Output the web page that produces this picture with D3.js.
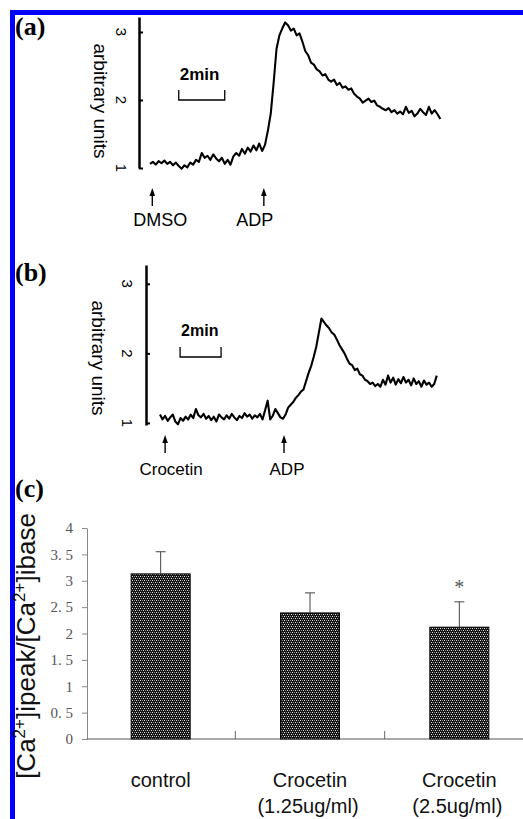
<!DOCTYPE html>
<html>
<head>
<meta charset="utf-8">
<script src="https://cdn.jsdelivr.net/npm/d3@7"></script>
<style>
    body { margin: 0; background: #fff; }
    svg { display: block; }
</style>
</head>
<body>
<div id="chart"></div>
<script>
// fluorescence traces, one reading every 0.125 min (arbitrary units)
var traceStep = 0.125;
var traceA = [1.06, 1.09, 1.05, 1.10, 1.07, 1.11, 1.06, 1.09, 1.04, 1.08,
    1.03, 0.99, 1.04, 1.01, 1.08, 1.05, 1.12, 1.09, 1.22, 1.15,
    1.18, 1.12, 1.20, 1.14, 1.10, 1.15, 1.06, 1.12, 1.05, 1.17,
    1.22, 1.18, 1.28, 1.21, 1.30, 1.24, 1.33, 1.26, 1.36, 1.25,
    1.34, 1.55, 1.80, 2.25, 2.75, 2.95, 3.05, 3.14, 3.10, 3.02,
    3.05, 2.95, 2.98, 2.86, 2.72, 2.66, 2.55, 2.52, 2.45, 2.42,
    2.36, 2.38, 2.30, 2.27, 2.30, 2.22, 2.25, 2.18, 2.20, 2.15,
    2.17, 2.09, 2.05, 2.02, 1.96, 1.99, 2.02, 1.97, 1.99, 1.92,
    1.90, 1.87, 1.85, 1.88, 1.82, 1.85, 1.80, 1.83, 1.79, 1.90,
    1.81, 1.84, 1.76, 1.80, 1.87, 1.82, 1.78, 1.90, 1.80, 1.85,
    1.79, 1.72];
var traceB = [1.12, 1.05, 1.10, 1.03, 1.08, 1.12, 1.02, 0.98, 1.07, 1.03,
    1.09, 1.05, 1.12, 1.07, 1.20, 1.11, 1.08, 1.13, 1.06, 1.10,
    1.04, 1.09, 1.02, 1.12, 1.08, 1.05, 1.11, 1.06, 1.13, 1.08,
    1.04, 1.10, 1.07, 1.14, 1.09, 1.12, 1.06, 1.11, 1.08, 1.13,
    1.05, 1.18, 1.32, 1.05, 1.10, 1.20, 1.14, 1.08, 1.06, 1.12,
    1.22, 1.26, 1.30, 1.36, 1.40, 1.45, 1.48, 1.60, 1.72, 1.82,
    1.95, 2.10, 2.30, 2.50, 2.45, 2.40, 2.36, 2.30, 2.27, 2.20,
    2.12, 2.06, 2.00, 1.92, 1.85, 1.83, 1.76, 1.78, 1.70, 1.68,
    1.62, 1.60, 1.56, 1.58, 1.53, 1.56, 1.52, 1.62, 1.55, 1.68,
    1.58, 1.65, 1.55, 1.63, 1.57, 1.66, 1.58, 1.62, 1.54, 1.64,
    1.56, 1.60, 1.52, 1.61, 1.55, 1.58, 1.52, 1.56, 1.68];
var traceTicks = [1, 2, 3];

var eventsA = ["DMSO", "ADP"];
var eventTimesA = [0.1, 4.95];
var eventsB = ["Crocetin", "ADP"];
var eventTimesB = [0.25, 6.05];

// panel (c): peak / base ratio
var groups = ["control", "Crocetin", "Crocetin"];
var groupDoses = ["", "(1.25ug/ml)", "(2.5ug/ml)"];
var ratioMeans = [3.13, 2.39, 2.12];
var ratioErrors = [0.42, 0.38, 0.48];
var significant = [false, false, true];
var ratioTicks = [0, 0.5, 1, 1.5, 2, 2.5, 3, 3.5, 4];

var sans = "'Liberation Sans', Arial, sans-serif";
var serif = "'Liberation Serif', 'Times New Roman', serif";

var svg = d3.select("#chart").append("svg")
    .attr("width", 523)
    .attr("height", 819);

// blue frame (left + top only)
svg.append("rect").attr("x", 10).attr("y", 10).attr("width", 5).attr("height", 809).attr("fill", "#0000ff");
svg.append("rect").attr("x", 10).attr("y", 10).attr("width", 513).attr("height", 5).attr("fill", "#0000ff");

function drawTrace(cfg) {
    var g = svg.append("g");
    var x = d3.scaleLinear().domain([0, 1]).range([cfg.left, cfg.left + cfg.pxPerMin]);
    var y = d3.scaleLinear().domain(cfg.yDomain).range(cfg.yRange);

    g.append("text")
        .attr("x", 15).attr("y", cfg.tagY)
        .style("font-family", serif).style("font-weight", "bold").style("font-size", "26px")
        .text(cfg.tag);

    var axis = g.append("g")
        .attr("transform", "translate(" + cfg.axisX + ",0)")
        .call(d3.axisRight(y).tickValues(traceTicks).tickSize(4).tickSizeOuter(0).tickFormat(""));
    axis.select(".domain").attr("stroke", "#000").attr("stroke-width", 2.5);
    axis.selectAll(".tick line").attr("stroke", "#000").attr("stroke-width", 2);

    g.selectAll(".ticklab").data(traceTicks).enter().append("text")
        .attr("transform", function(d) { return "translate(" + (cfg.axisX - cfg.tickGap) + "," + y(d) + ") rotate(90)"; })
        .attr("text-anchor", "middle")
        .attr("dominant-baseline", "central")
        .style("font-family", sans).style("font-size", "15px")
        .text(function(d) { return d; });

    g.append("text")
        .attr("transform", "translate(" + cfg.unitX + "," + cfg.unitY + ") rotate(90)")
        .attr("text-anchor", "middle")
        .attr("dominant-baseline", "central")
        .style("font-family", sans).style("font-size", "19px")
        .text("arbitrary units");

    var line = d3.line()
        .x(function(d, i) { return x(i * traceStep); })
        .y(function(d) { return y(d); });
    g.append("path")
        .datum(cfg.values)
        .attr("d", line)
        .attr("fill", "none")
        .attr("stroke", "#000")
        .attr("stroke-width", 2.1)
        .attr("stroke-linejoin", "round");

    // 2 min scale bar
    g.append("text")
        .attr("x", x(cfg.barT) + 1).attr("y", cfg.barTextY)
        .style("font-family", sans).style("font-weight", "bold").style("font-size", cfg.barFont)
        .text("2min");
    g.append("path")
        .attr("d", "M" + x(cfg.barT) + "," + (cfg.barY - 10) + "V" + cfg.barY +
            "H" + x(cfg.barT + 2) + "V" + (cfg.barY - 10))
        .attr("fill", "none").attr("stroke", "#000").attr("stroke-width", 1.3);

    // event arrows
    cfg.events.forEach(function(name, i) {
        var ax = x(cfg.times[i]);
        g.append("line")
            .attr("x1", ax).attr("x2", ax)
            .attr("y1", cfg.arrowTop + 6).attr("y2", cfg.arrowTop + 18)
            .attr("stroke", "#000").attr("stroke-width", 1.4);
        g.append("path")
            .attr("d", "M" + ax + "," + cfg.arrowTop + "L" + (ax + 2.8) + "," + (cfg.arrowTop + 8) +
                "L" + (ax - 2.8) + "," + (cfg.arrowTop + 8) + "Z")
            .attr("fill", "#000");
        g.append("text")
            .attr("x", ax + cfg.labelShift[i]).attr("y", cfg.labelY)
            .attr("text-anchor", "middle")
            .style("font-family", sans).style("font-size", cfg.labelFont)
            .text(name);
    });
}

drawTrace({
    tag: "(a)", tagY: 35,
    values: traceA, events: eventsA, times: eventTimesA,
    left: 150, pxPerMin: 23,
    yDomain: [1, 3.22], yRange: [168, 17],
    axisX: 139, tickGap: 18, unitX: 100, unitY: 101,
    barT: 1.25, barY: 100, barTextY: 80, barFont: "17px",
    arrowTop: 188, labelY: 226, labelShift: [8, -9], labelFont: "18px"
});

drawTrace({
    tag: "(b)", tagY: 281,
    values: traceB, events: eventsB, times: eventTimesB,
    left: 160, pxPerMin: 20.5,
    yDomain: [0.97, 3.27], yRange: [425, 265],
    axisX: 146, tickGap: 19, unitX: 98, unitY: 358,
    barT: 0.98, barY: 357, barTextY: 336, barFont: "16px",
    arrowTop: 435, labelY: 475, labelShift: [6, 3], labelFont: "17px"
});

// ---- panel (c) bar chart ----
var defs = svg.append("defs");
var pat = defs.append("pattern")
    .attr("id", "dots")
    .attr("patternUnits", "userSpaceOnUse")
    .attr("width", 4).attr("height", 4);
pat.append("rect").attr("width", 4).attr("height", 4).attr("fill", "#161616");
[[0, 0, "#dcdcdc"], [2, 0, "#8c8c8c"], [1, 2, "#8c8c8c"], [3, 2, "#dcdcdc"]].forEach(function(p) {
    pat.append("rect").attr("x", p[0]).attr("y", p[1]).attr("width", 1).attr("height", 1).attr("fill", p[2]);
});

var c = svg.append("g");
c.append("text")
    .attr("x", 15).attr("y", 497)
    .style("font-family", serif).style("font-weight", "bold").style("font-size", "26px")
    .text("(c)");

var yC = d3.scaleLinear().domain([0, 4]).range([739, 528]);
var xC = d3.scaleBand().domain(d3.range(groups.length)).range([86, 534]);
var barW = xC.bandwidth() * 0.395;

var yAxis = c.append("g")
    .attr("transform", "translate(87,0)")
    .call(d3.axisLeft(yC).tickValues(ratioTicks).tickSize(5).tickSizeOuter(0).tickPadding(9)
        .tickFormat(function(d) { return String(d).replace(".", ". "); }));
yAxis.select(".domain").attr("stroke", "#888");
yAxis.selectAll(".tick line").attr("stroke", "#888");
yAxis.selectAll("text")
    .style("font-family", serif).style("font-size", "15px").attr("fill", "#555");

// x axis with separators between groups
c.append("line")
    .attr("x1", 87).attr("x2", 523)
    .attr("y1", yC(0)).attr("y2", yC(0))
    .attr("stroke", "#555").attr("stroke-width", 1.2);
c.selectAll(".sep").data(d3.range(1, groups.length)).enter().append("line")
    .attr("x1", function(d) { return xC(d); }).attr("x2", function(d) { return xC(d); })
    .attr("y1", yC(0) - 8).attr("y2", yC(0))
    .attr("stroke", "#666");

c.selectAll(".bar").data(ratioMeans).enter().append("rect")
    .attr("x", function(d, i) { return xC(i) + xC.bandwidth() / 2 - barW / 2; })
    .attr("y", function(d) { return yC(d); })
    .attr("width", barW)
    .attr("height", function(d) { return yC(0) - yC(d); })
    .attr("fill", "url(#dots)")
    .attr("stroke", "#000")
    .attr("stroke-width", 1);

ratioMeans.forEach(function(m, i) {
    var cx = xC(i) + xC.bandwidth() / 2;
    var top = yC(m + ratioErrors[i]);
    c.append("line")
        .attr("x1", cx).attr("x2", cx).attr("y1", yC(m)).attr("y2", top)
        .attr("stroke", "#444");
    c.append("line")
        .attr("x1", cx - 5).attr("x2", cx + 5).attr("y1", top).attr("y2", top)
        .attr("stroke", "#444");
    if (significant[i]) {
        c.append("text")
            .attr("x", cx).attr("y", top - 8)
            .attr("text-anchor", "middle")
            .style("font-family", serif).style("font-size", "20px").attr("fill", "#555")
            .text("*");
    }
    c.append("text")
        .attr("x", cx).attr("y", 787)
        .attr("text-anchor", "middle")
        .style("font-family", sans).style("font-size", "20px").attr("fill", "#111")
        .text(groups[i]);
    if (groupDoses[i]) {
        c.append("text")
            .attr("x", cx - 2).attr("y", 813)
            .attr("text-anchor", "middle")
            .style("font-family", sans).style("font-size", "20px").attr("fill", "#111")
            .text(groupDoses[i]);
    }
});

// y label [Ca2+]ipeak/[Ca2+]ibase
var yl = c.append("text")
    .attr("transform", "translate(35,646) rotate(-90)")
    .attr("text-anchor", "middle")
    .style("font-family", sans).style("font-size", "26px").attr("fill", "#111");
yl.append("tspan").text("[Ca");
yl.append("tspan").attr("dy", -10).style("font-size", "17px").text("2+");
yl.append("tspan").attr("dy", 10).text("]ipeak/[Ca");
yl.append("tspan").attr("dy", -10).style("font-size", "17px").text("2+");
yl.append("tspan").attr("dy", 10).text("]ibase");
</script>
</body>
</html>
